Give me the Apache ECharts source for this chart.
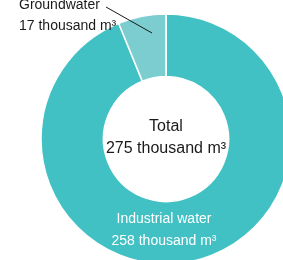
<!DOCTYPE html>
<html><head><meta charset="utf-8">
<script src="https://cdn.jsdelivr.net/npm/echarts@6/dist/echarts.min.js"></script>
<style>html,body{margin:0;padding:0;background:#fff}#c{width:283px;height:260px}</style>
</head><body><div id="c"></div>
<script>
var categories = ['Industrial water', 'Groundwater'];
var values = [258, 17];
var totalLabel = 'Total';
var totalValue = 275;
var unit = 'thousand m³';

var chart = echarts.init(document.getElementById('c'));
var font = '"Liberation Sans", Arial, Helvetica, sans-serif';
function fmt(p) { return p.name + '\n' + p.value + ' ' + unit; }
chart.setOption({
  animation: false,
  graphic: [{
    type: 'text',
    style: {
      text: totalLabel + '\n' + totalValue + ' ' + unit,
      x: 166, y: 138, align: 'center', verticalAlign: 'middle',
      font: '16px ' + font, lineHeight: 22, fill: '#1a1a1a'
    }
  }, {
    type: 'line', z: 100,
    shape: { x1: 106, y1: 7, x2: 152, y2: 33 },
    style: { stroke: '#1a1a1a', lineWidth: 1 }
  }],
  series: [{
    type: 'pie',
    center: [166, 139],
    radius: [62.5, 125],
    startAngle: 90,
    clockwise: true,
    itemStyle: { borderColor: '#fff', borderWidth: 1.5 },
    label: { fontFamily: font, fontSize: 14, lineHeight: 21, overflow: 'none' },
    labelLine: { show: false },
    data: [
      { name: categories[0], value: values[0],
        itemStyle: { color: '#42c1c4' },
        label: { position: 'inside', color: '#ffffff', formatter: fmt, lineHeight: 22 } },
      { name: categories[1], value: values[1],
        itemStyle: { color: '#7bcdd0' },
        label: { position: 'outside', color: '#1a1a1a', formatter: fmt, width: 140, overflow: 'none' } }
    ],
    labelLayout: function (params) {
      if (params.dataIndex === 1) {
        return { x: 19, y: 16, align: 'left', verticalAlign: 'middle' };
      }
      return { x: 164, y: 230, align: 'center', verticalAlign: 'middle' };
    }
  }]
});
</script></body></html>
